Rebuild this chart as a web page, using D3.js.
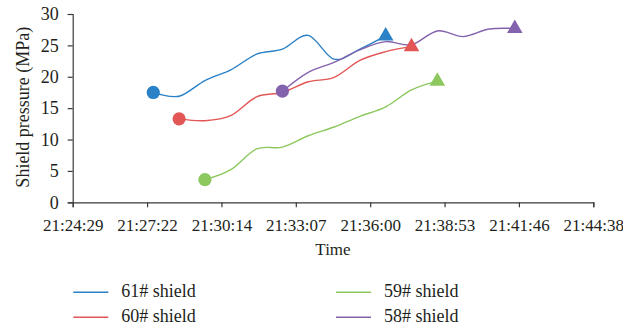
<!DOCTYPE html>
<html>
<head>
<meta charset="utf-8">
<script src="https://cdn.jsdelivr.net/npm/d3@7"></script>
<style>
  html, body { margin: 0; padding: 0; background: #fff; }
  svg { display: block; }
  svg text { font-family: 'Liberation Serif', 'DejaVu Serif', serif !important; fill: #231f20; }
</style>
</head>
<body>
<svg id="chart" width="623" height="330"></svg>
<script>
// Shield pressure readings, one per minute
const times61 = ["21:27:36","21:28:36","21:29:36","21:30:36","21:31:36","21:32:36","21:33:36","21:34:36","21:35:36","21:36:36"];
const values61 = [17.5, 16.9, 19.4, 21.1, 23.6, 24.4, 26.6, 22.8, 24.4, 26.5];

const times60 = ["21:28:36","21:29:36","21:30:36","21:31:36","21:32:36","21:33:36","21:34:36","21:35:36","21:36:36","21:37:36"];
const values60 = [13.3, 13.0, 13.8, 16.8, 17.5, 19.2, 19.9, 22.6, 24.0, 24.8];

const times59 = ["21:29:36","21:30:36","21:31:36","21:32:36","21:33:36","21:34:36","21:35:36","21:36:36","21:37:36","21:38:36"];
const values59 = [3.6, 5.2, 8.5, 8.8, 10.6, 12.0, 13.7, 15.2, 17.9, 19.3];

const times58 = ["21:32:36","21:33:36","21:34:36","21:35:36","21:36:36","21:37:36","21:38:36","21:39:36","21:40:36","21:41:36"];
const values58 = [17.7, 20.7, 22.3, 24.3, 25.6, 25.1, 27.3, 26.4, 27.6, 27.7];

const seriesNames = ["61# shield", "60# shield", "59# shield", "58# shield"];
const seriesColors = ["#2a81c6", "#e35656", "#8cc85e", "#8463ae"];

// Time axis: 0.892 to 0.906 of a day, one tick every 0.002 day
const xTickLabels = ["21:24:29","21:27:22","21:30:14","21:33:07","21:36:00","21:38:53","21:41:46","21:44:38"];
const xStartDay = 0.892, xStepDay = 0.002;
const yTicks = [0, 5, 10, 15, 20, 25, 30];

const toSec = s => { const [h, m, c] = s.split(":").map(Number); return h * 3600 + m * 60 + c; };

const series = [
  { name: seriesNames[0], color: seriesColors[0], pts: times61.map((t, i) => ({ t: toSec(t), v: values61[i] })) },
  { name: seriesNames[1], color: seriesColors[1], pts: times60.map((t, i) => ({ t: toSec(t), v: values60[i] })) },
  { name: seriesNames[2], color: seriesColors[2], pts: times59.map((t, i) => ({ t: toSec(t), v: values59[i] })) },
  { name: seriesNames[3], color: seriesColors[3], pts: times58.map((t, i) => ({ t: toSec(t), v: values58[i] })) }
];

const svg = d3.select("#chart");
const plotLeft = 72.7, plotRight = 593.3, plotTop = 14, plotBottom = 202.3;

const xTickVals = xTickLabels.map((_, i) => (xStartDay + i * xStepDay) * 86400);
const x = d3.scaleLinear()
  .domain([xTickVals[0], xTickVals[xTickVals.length - 1]])
  .range([plotLeft, plotRight]);
const y = d3.scaleLinear().domain([0, 30]).range([plotBottom, plotTop]);

const axisColor = "#3a3a3a";
const serif = "'Liberation Serif', 'DejaVu Serif', serif";

// x axis
const gx = svg.append("g")
  .attr("transform", `translate(0,${plotBottom})`)
  .call(d3.axisBottom(x).tickValues(xTickVals).tickFormat((d, i) => xTickLabels[i]).tickSizeOuter(0).tickSize(5).tickPadding(12));
gx.attr("font-family", serif);
gx.select(".domain").attr("stroke", axisColor).attr("stroke-width", 1.2);
gx.selectAll(".tick line").attr("stroke", axisColor).attr("stroke-width", 1.2);
gx.selectAll(".tick text").attr("font-size", 17).attr("fill", "#231f20");

// y axis
const gy = svg.append("g")
  .attr("transform", `translate(${plotLeft},0)`)
  .call(d3.axisLeft(y).tickValues(yTicks).tickSizeOuter(0).tickSize(5).tickPadding(9));
gy.attr("font-family", serif);
gy.select(".domain").attr("stroke", axisColor).attr("stroke-width", 1.2);
gy.selectAll(".tick line").attr("stroke", axisColor).attr("stroke-width", 1.2);
gy.selectAll(".tick text").attr("font-size", 18).attr("fill", "#231f20");

// axis titles
svg.append("text")
  .attr("x", (plotLeft + plotRight) / 2).attr("y", 255)
  .attr("text-anchor", "middle").attr("font-size", 17)
  .text("Time");
svg.append("text")
  .attr("transform", `translate(29,${(plotTop + plotBottom) / 2 - 1}) rotate(-90)`)
  .attr("text-anchor", "middle").attr("font-size", 18)
  .text("Shield pressure (MPa)");

// smoothed lines
const line = d3.line()
  .x(d => x(d.t)).y(d => y(d.v))
  .curve(d3.curveCatmullRom.alpha(0));

svg.append("g").selectAll("path")
  .data(series).join("path")
  .attr("d", s => line(s.pts))
  .attr("fill", "none")
  .attr("stroke", s => s.color)
  .attr("stroke-width", 1.4);

// start markers (circles) and end markers (triangles)
const markers = svg.append("g");
series.forEach(s => {
  const first = s.pts[0], last = s.pts[s.pts.length - 1];
  markers.append("circle")
    .attr("cx", x(first.t)).attr("cy", y(first.v)).attr("r", 6.6)
    .attr("fill", s.color);
  markers.append("path")
    .attr("d", d3.symbol(d3.symbolTriangle, 105)())
    .attr("transform", `translate(${x(last.t)},${y(last.v)})`)
    .attr("fill", s.color);
});

// legend
const legendPos = [
  { lx: 73.3, ly: 292.3 },
  { lx: 73.3, ly: 317.3 },
  { lx: 336, ly: 292.3 },
  { lx: 336, ly: 317.3 }
];
const lg = svg.append("g");
series.forEach((s, i) => {
  const p = legendPos[i];
  lg.append("line")
    .attr("x1", p.lx).attr("x2", p.lx + 35)
    .attr("y1", p.ly).attr("y2", p.ly)
    .attr("stroke", s.color).attr("stroke-width", 1.5);
  lg.append("text")
    .attr("x", p.lx + 48).attr("y", p.ly + 5)
    .attr("font-size", 18)
    .text(s.name);
});
</script>
</body>
</html>
